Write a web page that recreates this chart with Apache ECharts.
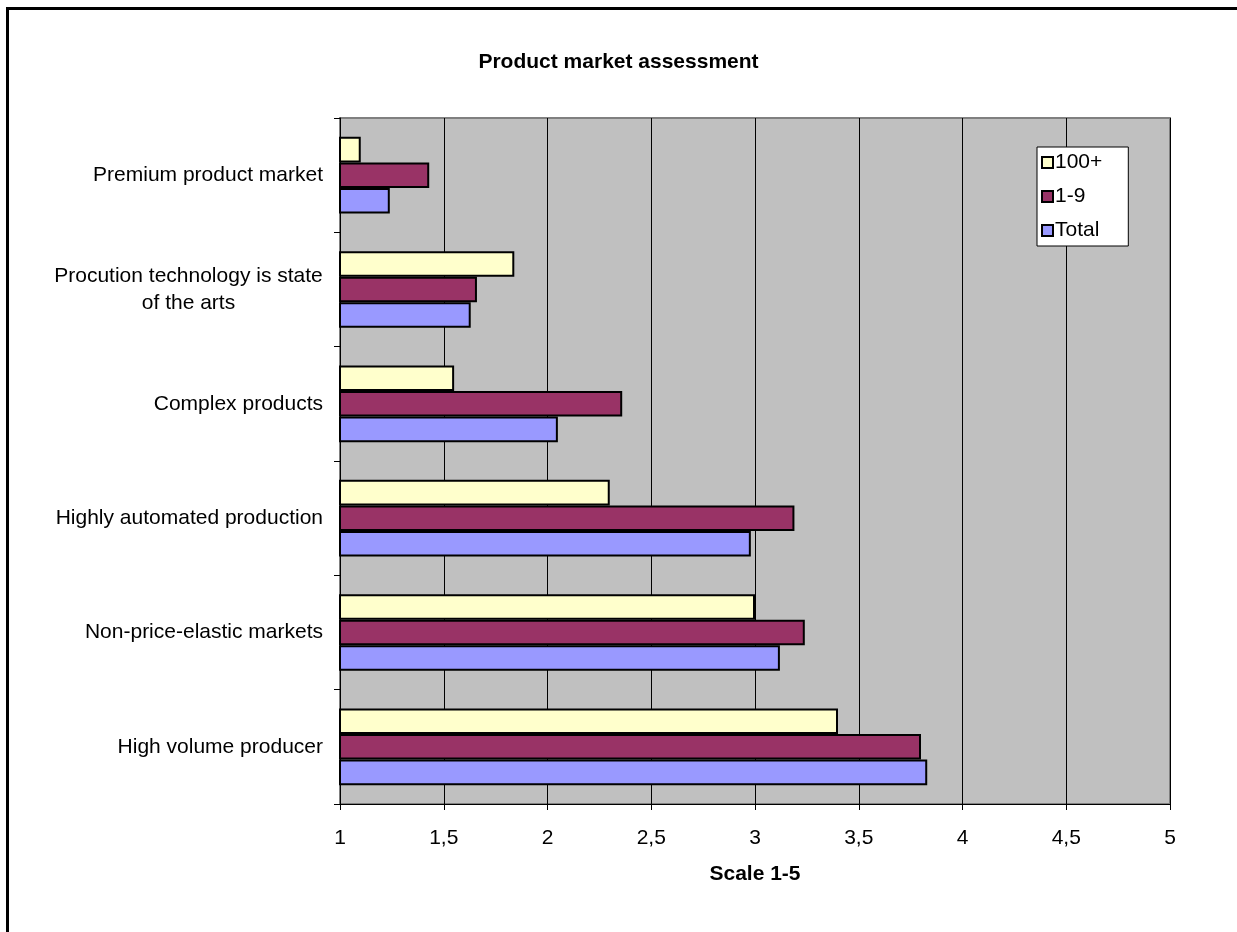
<!DOCTYPE html>
<html>
<head>
<meta charset="utf-8">
<script src="https://cdn.jsdelivr.net/npm/echarts@6/dist/echarts.min.js"></script>
<style>
  html, body { margin: 0; padding: 0; background: #fff; overflow: hidden; }
  #chart { position: absolute; left: 0; top: 0; width: 1237px; height: 932px; }
  #frame { position: absolute; left: 6px; top: 7px; width: 1400px; height: 1100px;
           border-left: 3px solid #000; border-top: 3px solid #000; pointer-events: none; }
</style>
</head>
<body>
<div id="chart"></div>
<div id="frame"></div>
<script>
// Categories listed bottom-to-top (category axis starts at the origin)
const categories = [
  'High volume producer',
  'Non-price-elastic markets',
  'Highly automated production',
  'Complex products',
  'Procution technology is state\nof the arts',
  'Premium product market'
];
const seriesNames = ['100+', '1-9', 'Total'];
const values100plus = [3.40, 3.00, 2.30, 1.55, 1.84, 1.10];
const values1to9    = [3.80, 3.24, 3.19, 2.36, 1.66, 1.43];
const valuesTotal   = [3.83, 3.12, 2.98, 2.05, 1.63, 1.24];
const tickLabels = ['1', '1,5', '2', '2,5', '3', '3,5', '4', '4,5', '5'];

const FONT = '"Liberation Sans", Arial, sans-serif';
const FS = 21;

// width of the widest line of wrapped labels, so each line can be centred
const measureCtx = document.createElement('canvas').getContext('2d');
measureCtx.font = FS + 'px ' + FONT;
let wrapWidth = 0;
categories.forEach(function (c) {
  if (c.indexOf('\n') >= 0) {
    c.split('\n').forEach(function (s) {
      wrapWidth = Math.max(wrapWidth, Math.ceil(measureCtx.measureText(s).width));
    });
  }
});

const chart = echarts.init(document.getElementById('chart'), null, { renderer: 'canvas' });

function barSeries(name, data, color) {
  return {
    name: name,
    type: 'bar',
    data: data,
    barGap: '0%',
    barCategoryGap: '33%',
    itemStyle: { color: color, borderColor: '#000', borderWidth: 2 }
  };
}

chart.setOption({
  backgroundColor: '#fff',
  animation: false,
  textStyle: { fontFamily: FONT },
  title: {
    text: 'Product market assessment',
    left: 'center',
    top: 47,
    textStyle: { fontFamily: FONT, fontSize: FS, fontWeight: 'bold', color: '#000' }
  },
  legend: {
    orient: 'vertical',
    left: 1037,
    top: 147,
    data: seriesNames,
    itemWidth: 11,
    itemHeight: 11,
    itemGap: 9,
    padding: [3, 26, 3, 4],
    backgroundColor: '#fff',
    borderColor: '#000',
    borderWidth: 1,
    borderRadius: 0,
    icon: 'rect',
    textStyle: { fontFamily: FONT, fontSize: FS, color: '#000', lineHeight: 25, padding: [0, 0, 0, -3] }
  },
  grid: {
    left: 340, top: 118, width: 830, height: 686,
    show: true,
    backgroundColor: '#c0c0c0',
    borderColor: '#808080',
    borderWidth: 2
  },
  xAxis: {
    type: 'value',
    min: 1,
    max: 5,
    interval: 0.5,
    name: 'Scale 1-5',
    nameLocation: 'middle',
    nameGap: 60,
    nameTextStyle: { fontFamily: FONT, fontSize: FS, fontWeight: 'bold', color: '#000' },
    axisLine: { show: true, lineStyle: { color: '#000', width: 1 } },
    axisTick: { show: true, length: 6, lineStyle: { color: '#000' } },
    axisLabel: {
      margin: 24,
      fontFamily: FONT, fontSize: FS, color: '#000',
      formatter: function (v) {
        const i = Math.round((v - 1) / 0.5);
        return tickLabels[i] !== undefined ? tickLabels[i] : '';
      }
    },
    splitLine: { show: true, lineStyle: { color: '#000', width: 1 } }
  },
  yAxis: {
    type: 'category',
    data: categories,
    axisLine: { show: true, lineStyle: { color: '#000', width: 1 } },
    axisTick: { show: true, length: 6, lineStyle: { color: '#000' } },
    axisLabel: {
      margin: 17,
      fontFamily: FONT, fontSize: FS, color: '#000', lineHeight: 27,
      formatter: function (v) {
        if (v.indexOf('\n') < 0) return v;
        return v.split('\n').map(function (s) { return '{c|' + s + '}'; }).join('\n');
      },
      rich: {
        c: { width: wrapWidth, align: 'center', fontFamily: FONT, fontSize: FS, color: '#000', lineHeight: 27 }
      }
    },
    splitLine: { show: false }
  },
  series: [
    barSeries('100+', values100plus, '#ffffcc'),
    barSeries('1-9', values1to9, '#993366'),
    barSeries('Total', valuesTotal, '#9999ff')
  ]
});
</script>
</body>
</html>
